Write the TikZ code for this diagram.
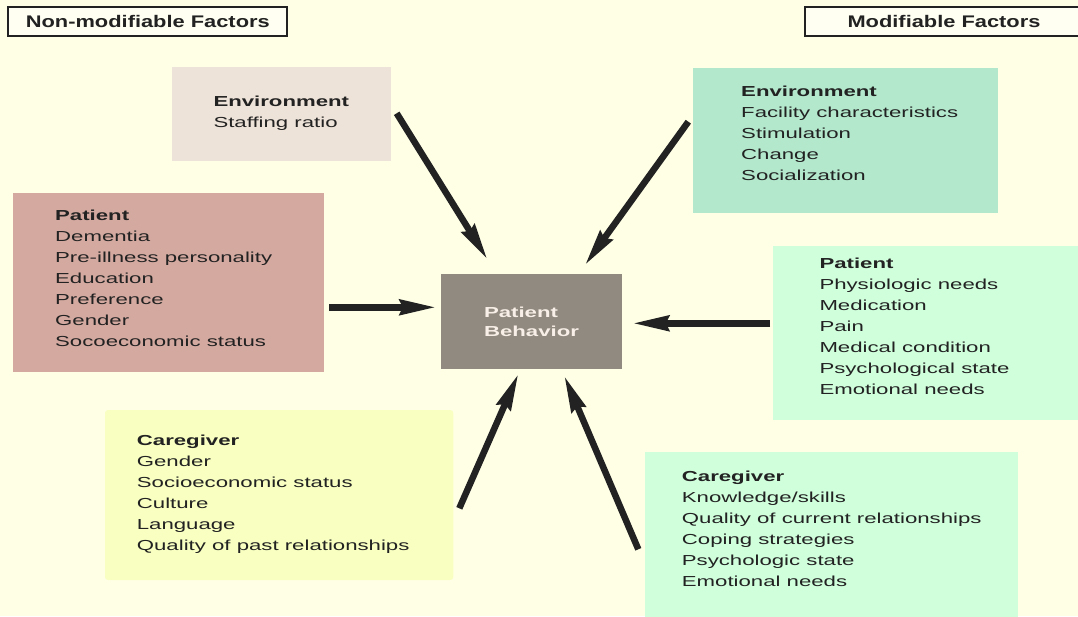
\documentclass[tikz,border=0pt]{standalone}
\usepackage{fontspec}
\setmainfont[FakeStretch=1.53]{Liberation Sans}
\newfontfamily\tagfont[FakeStretch=1.3]{Liberation Sans}
\usetikzlibrary{arrows.meta,positioning}
\definecolor{paper}{RGB}{255,255,230}
\definecolor{envfixed}{RGB}{238,227,216}
\definecolor{envfree}{RGB}{179,232,204}
\definecolor{patfixed}{RGB}{212,169,160}
\definecolor{mintfree}{RGB}{208,255,220}
\definecolor{carefixed}{RGB}{248,255,192}
\definecolor{behavfill}{RGB}{145,138,128}
\definecolor{ink}{RGB}{34,34,34}
\tikzset{
  factorbox/.style={anchor=north west, inner sep=0pt, outer sep=0pt},
  factortext/.style={anchor=north west, align=left, inner sep=0pt, text=ink,
                     font=\fontsize{14.5}{21}\selectfont},
  tagbox/.style={draw=ink, line width=2pt, fill=paper!50!white, minimum width=279pt,
                 minimum height=29pt, text=ink, font=\tagfont\fontsize{16.8}{20}\selectfont\bfseries},
  pusharrow/.style={line width=6.5pt, draw=ink, -{Stealth[length=36pt,width=15pt,inset=3pt]}}
}
\begin{document}
\begin{tikzpicture}[x=1pt,y=-1pt]
        \useasboundingbox (0,0) rectangle (1078,616);
        \fill[paper] (0,0) rectangle (1078,616);
        % headings
        \node[tagbox] (fixedtag) at (147.8,21) {Non-modifiable Factors};
        \node[tagbox] (freetag) at (944,21.5) {Modifiable Factors};
        % factor boxes
        \node[factorbox, fill=envfixed, minimum width=219pt, minimum height=94pt] (envA) at (171.7,66.7) {};
        \node[factortext, below right=29.5pt and 41.6pt of envA.north west] (envAtext)
          {\textbf{Environment}\\Staffing ratio};
        \node[factorbox, fill=envfree, minimum width=305.3pt, minimum height=144.4pt] (envB) at (692.7,68.3) {};
        \node[factortext, below right=17.2pt and 48.3pt of envB.north west] (envBtext)
          {\textbf{Environment}\\Facility characteristics\\Stimulation\\Change\\Socialization};
        \node[factorbox, fill=patfixed, minimum width=310.7pt, minimum height=179pt] (patA) at (13.3,192.7) {};
        \node[factortext, below right=16.8pt and 41.7pt of patA.north west] (patAtext)
          {\textbf{Patient}\\Dementia\\Pre-illness personality\\Education\\Preference\\Gender\\Socoeconomic status};
        \node[factorbox, fill=mintfree, minimum width=310pt, minimum height=174pt] (patB) at (772.7,246) {};
        \node[factortext, below right=11.8pt and 46.6pt of patB.north west] (patBtext)
          {\textbf{Patient}\\Physiologic needs\\Medication\\Pain\\Medical condition\\Psychological state\\Emotional needs};
        \node[factorbox, fill=carefixed, rounded corners=3pt, minimum width=348.3pt, minimum height=170pt] (careA) at (105,410) {};
        \node[factortext, below right=24.5pt and 31.7pt of careA.north west] (careAtext)
          {\textbf{Caregiver}\\Gender\\Socioeconomic status\\Culture\\Language\\Quality of past relationships};
        \node[factorbox, fill=mintfree, minimum width=373.3pt, minimum height=170pt] (careB) at (645,451.7) {};
        \node[factortext, below right=19.5pt and 36.7pt of careB.north west] (careBtext)
          {\textbf{Caregiver}\\Knowledge/skills\\Quality of current relationships\\Coping strategies\\Psychologic state\\Emotional needs};
        % centre
        \node[fill=behavfill, minimum width=181.6pt, minimum height=95.3pt, align=left,
              text={rgb,255:red,248;green,240;blue,232}, font=\fontsize{14.5}{19}\selectfont\bfseries]
              (behav) at (531.5,321.7) {Patient\\Behavior};
        % arrows
        \coordinate (tailNW) at (396.7,113.3);  \coordinate (tipNW) at (487.3,259.3);
        \coordinate (tailNE) at (688.3,121.7);  \coordinate (tipNE) at (585,265);
        \coordinate (tailW) at (329.3,307.3);   \coordinate (tipW) at (436,307.3);
        \coordinate (tailE) at (770,323.3);     \coordinate (tipE) at (632.7,323.3);
        \coordinate (tailSW) at (459.3,508.3);  \coordinate (tipSW) at (518.3,374);
        \coordinate (tailSE) at (638.3,549.3);  \coordinate (tipSE) at (564.3,376);
        \foreach \a/\b in {tailNW/tipNW, tailNE/tipNE, tailW/tipW, tailE/tipE, tailSW/tipSW, tailSE/tipSE}
        \draw[pusharrow] (\a) -- (\b);
\end{tikzpicture}
\end{document}
